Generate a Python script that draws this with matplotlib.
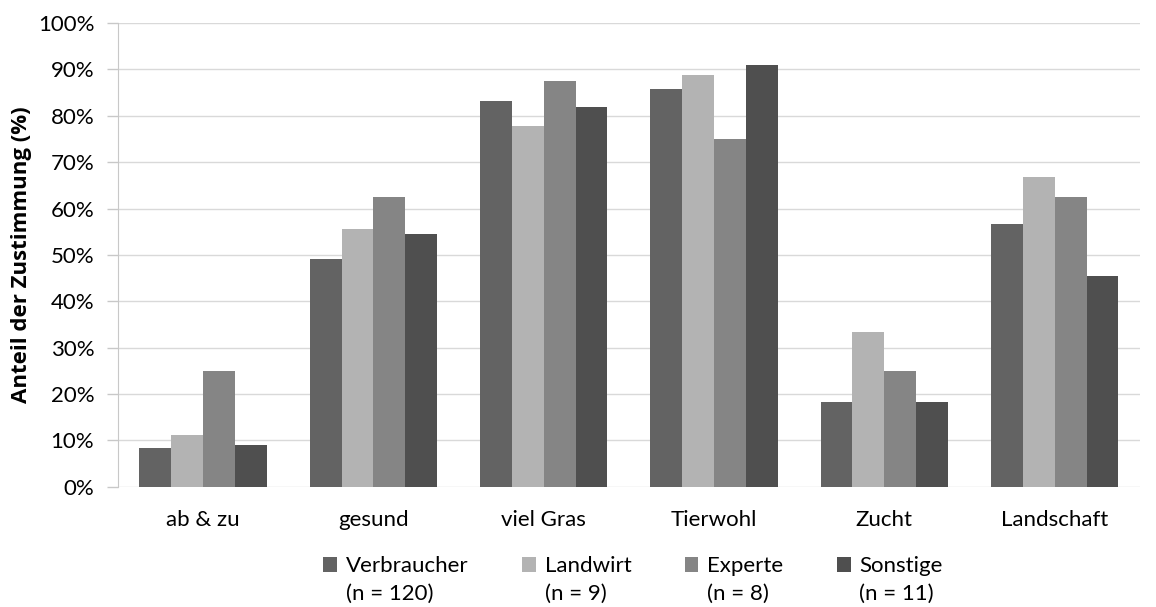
import matplotlib
matplotlib.use("Agg")
import matplotlib.pyplot as plt
import numpy as np

categories = ["ab & zu", "gesund", "viel Gras", "Tierwohl", "Zucht", "Landschaft"]
series_names = ["Verbraucher", "Landwirt", "Experte", "Sonstige"]
series_n = ["(n = 120)", "(n = 9)", "(n = 8)", "(n = 11)"]
verbraucher = [8.3, 49.2, 83.3, 85.8, 18.3, 56.7]
landwirt = [11.1, 55.6, 77.8, 88.9, 33.3, 66.7]
experte = [25.0, 62.5, 87.5, 75.0, 25.0, 62.5]
sonstige = [9.1, 54.5, 81.8, 90.9, 18.2, 45.5]
colors = ["#636363", "#b3b3b3", "#858585", "#4f4f4f"]
yticks = [0, 10, 20, 30, 40, 50, 60, 70, 80, 90, 100]

plt.rcParams['font.family'] = ['Lato', 'DejaVu Sans']
FS = 16

fig = plt.figure(figsize=(11.56, 6.07), dpi=100)
ax = fig.add_axes([0.102, 0.198, 0.884, 0.764])

data = [verbraucher, landwirt, experte, sonstige]
x = np.arange(len(categories))
w = 0.187
handles = []
for i, (vals, c) in enumerate(zip(data, colors)):
    b = ax.bar(x + (i - 1.5) * w, vals, width=w, color=c, zorder=3)
    handles.append(b)

ax.set_xlim(-0.5, len(categories) - 0.5)
ax.set_ylim(0, 100)
ax.set_yticks(yticks)
ax.set_yticklabels([f"{t}%" for t in yticks], fontsize=FS)
ax.set_xticks(x)
ax.set_xticklabels(categories, fontsize=FS)
ax.tick_params(axis='x', length=0, pad=17)
ax.tick_params(axis='y', length=8, color="#c8c8c8", width=1, pad=9)
ax.grid(axis='y', color="#d9d9d9", linewidth=1, zorder=0)
for s in ["top", "right", "bottom"]:
    ax.spines[s].set_visible(False)
ax.spines["left"].set_color("#c8c8c8")
ax.set_ylabel("Anteil der Zustimmung (%)", fontsize=16, fontweight="bold", labelpad=4,
              family=['Open Sans', 'DejaVu Sans'])

leg = fig.legend(handles, series_names, loc="upper left", bbox_to_anchor=(0.272, 0.098),
                 ncol=4, frameon=False, fontsize=FS, handlelength=0.62, handleheight=0.62,
                 handletextpad=0.4, columnspacing=2.4, borderaxespad=0)
fig.canvas.draw()
r = fig.canvas.get_renderer()
for t, n in zip(leg.get_texts(), series_n):
    bb = t.get_window_extent(r)
    fx, fy = fig.transFigure.inverted().transform((bb.x0, bb.y0))
    fig.text(fx, fy - 0.012, n, fontsize=FS, va="top", ha="left")

fig.savefig("out.png", dpi=100)
